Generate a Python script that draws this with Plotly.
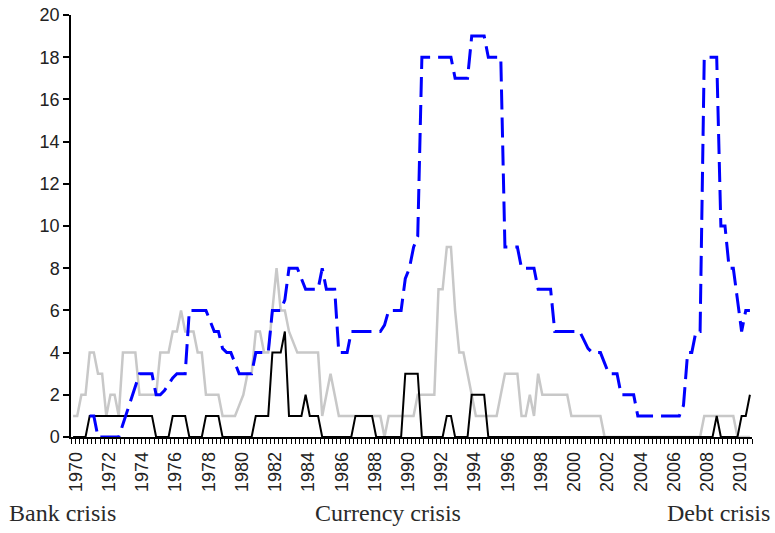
import plotly.graph_objects as go

# Quarterly data, 1970Q1 .. 2010Q4 (164 quarters)
first_year = 1970
last_year = 2010
quarters = [f"{y}Q{q}" for y in range(first_year, last_year + 1) for q in range(1, 5)]
# quarter mid-points on a decimal-year axis
quarter_pos = [first_year + (k + 0.5) / 4 for k in range(len(quarters))]

# Bank crisis (blue dashed)
bank = [
    None, None, None, None, 1, 1, 0, 0,          # 1970-71
    0, 0, 0, 0, 0.6, 1.2, 1.8, 2.4,              # 1972-73
    3, 3, 3, 3, 2, 2, 2.2, 2.5,                  # 1974-75
    2.8, 3, 3, 3, 6, 6, 6, 6,                    # 1976-77
    6, 5.5, 5, 5, 4.2, 4, 4, 3.5,                # 1978-79
    3, 3, 3, 3, 4, 4, 4, 4,                      # 1980-81
    6, 6, 6, 6.5, 8, 8, 8, 7.5,                  # 1982-83
    7, 7, 7, 7, 8, 7, 7, 7,                      # 1984-85
    4, 4, 4, 5, 5, 5, 5, 5,                      # 1986-87
    5, 5, 5, 5.3, 6, 6, 6, 6,                    # 1988-89
    7.5, 8, 9, 9.5, 18, 18, 18, 18,              # 1990-91
    18, 18, 18, 18, 17, 17, 17, 17,              # 1992-93
    19, 19, 19, 19, 18, 18, 18, 18,              # 1994-95
    9, 9, 9, 9, 8, 8, 8, 8,                      # 1996-97
    7, 7, 7, 7, 5, 5, 5, 5,                      # 1998-99
    5, 5, 5, 4.6, 4.2, 4, 4, 4,                  # 2000-01
    3.5, 3, 3, 3, 2, 2, 2, 2,                    # 2002-03
    1, 1, 1, 1, 1, 1, 1, 1,                      # 2004-05
    1, 1, 1, 1.5, 4, 4, 5, 5,                    # 2006-07
    18, 18, 18, 18, 10, 10, 8, 8,                # 2008-09
    6.5, 5, 6, 6,                                # 2010
]

# Currency crisis (light grey)
currency = [
    1, 1, 2, 2, 4, 4, 3, 3,                      # 1970-71
    1, 2, 2, 1, 4, 4, 4, 4,                      # 1972-73
    2, 2, 2, 2, 2, 4, 4, 4,                      # 1974-75
    5, 5, 6, 5, 5, 5, 4, 4,                      # 1976-77
    2, 2, 2, 2, 1, 1, 1, 1,                      # 1978-79
    1.5, 2, 3, 3, 5, 5, 4, 4,                    # 1980-81
    6, 8, 6, 6, 5, 4.5, 4, 4,                    # 1982-83
    4, 4, 4, 4, 1, 2, 3, 2,                      # 1984-85
    1, 1, 1, 1, 1, 1, 1, 1,                      # 1986-87
    1, 1, 1, 0, 1, 1, 1, 1,                      # 1988-89
    1, 1, 1, 2, 2, 2, 2, 2,                      # 1990-91
    7, 7, 9, 9, 6, 4, 4, 3,                      # 1992-93
    2, 1, 1, 1, 1, 1, 1, 2,                      # 1994-95
    3, 3, 3, 3, 1, 1, 2, 1,                      # 1996-97
    3, 2, 2, 2, 2, 2, 2, 2,                      # 1998-99
    1, 1, 1, 1, 1, 1, 1, 1,                      # 2000-01
    0, 0, 0, 0, 0, 0, 0, 0,                      # 2002-03
    0, 0, 0, 0, 0, 0, 0, 0,                      # 2004-05
    0, 0, 0, 0, 0, 0, 0, 0,                      # 2006-07
    1, 1, 1, 1, 1, 1, 1, 1,                      # 2008-09
    0, 0, 0, 0,                                  # 2010
]

# Debt crisis (black)
debt = [
    0, 0, 0, 0, 1, 1, 1, 1,                      # 1970-71
    1, 1, 1, 1, 1, 1, 1, 1,                      # 1972-73
    1, 1, 1, 1, 0, 0, 0, 0,                      # 1974-75
    1, 1, 1, 1, 0, 0, 0, 0,                      # 1976-77
    1, 1, 1, 1, 0, 0, 0, 0,                      # 1978-79
    0, 0, 0, 0, 1, 1, 1, 1,                      # 1980-81
    4, 4, 4, 5, 1, 1, 1, 1,                      # 1982-83
    2, 1, 1, 1, 0, 0, 0, 0,                      # 1984-85
    0, 0, 0, 0, 1, 1, 1, 1,                      # 1986-87
    1, 0, 0, 0, 0, 0, 0, 0,                      # 1988-89
    3, 3, 3, 3, 0, 0, 0, 0,                      # 1990-91
    0, 0, 1, 1, 0, 0, 0, 0,                      # 1992-93
    2, 2, 2, 2, 0, 0, 0, 0,                      # 1994-95
    0, 0, 0, 0, 0, 0, 0, 0,                      # 1996-97
    0, 0, 0, 0, 0, 0, 0, 0,                      # 1998-99
    0, 0, 0, 0, 0, 0, 0, 0,                      # 2000-01
    0, 0, 0, 0, 0, 0, 0, 0,                      # 2002-03
    0, 0, 0, 0, 0, 0, 0, 0,                      # 2004-05
    0, 0, 0, 0, 0, 0, 0, 0,                      # 2006-07
    0, 0, 0, 1, 0, 0, 0, 0,                      # 2008-09
    0, 1, 1, 2,                                  # 2010
]

tick_years = list(range(first_year, last_year + 1, 2))
tick_labels = [str(y) for y in tick_years]
y_ticks = list(range(0, 21, 2))

series_names = ["Bank crisis", "Currency crisis", "Debt crisis"]

fig = go.Figure()
fig.add_trace(go.Scatter(x=quarter_pos, y=currency, mode="lines", name=series_names[1],
                         line=dict(color="#c8c8c8", width=2.5)))
fig.add_trace(go.Scatter(x=quarter_pos, y=debt, mode="lines", name=series_names[2],
                         line=dict(color="#000000", width=2)))
fig.add_trace(go.Scatter(x=quarter_pos, y=bank, mode="lines", name=series_names[0],
                         line=dict(color="#0000ff", width=3, dash="20px,8px")))

axis_font = dict(family="Liberation Sans, Arial, sans-serif", size=18, color="#222")

fig.update_layout(
    width=775, height=533,
    margin=dict(l=71, r=23, t=15, b=96),
    paper_bgcolor="white", plot_bgcolor="white",
    showlegend=False,
    xaxis=dict(
        range=[first_year, last_year + 1], automargin=False,
        tickvals=[y + 0.3 for y in tick_years], ticktext=tick_labels,
        tickangle=-90, ticks="", tickfont=axis_font, ticklabelstandoff=6,
        ticklabeloverflow="allow",
        showline=True, linecolor="black", linewidth=1.5,
        showgrid=False, zeroline=False,
        minor=dict(ticks="outside", tick0=first_year, dtick=0.25, ticklen=5,
                   tickcolor="black", tickwidth=1, showgrid=False),
    ),
    yaxis=dict(
        range=[0, 20], tickvals=y_ticks, automargin=False,
        ticks="outside", ticklen=6, tickcolor="black", tickwidth=1.5,
        tickfont=axis_font, ticklabeloverflow="allow",
        showline=True, linecolor="black", linewidth=1.5,
        showgrid=False, zeroline=False,
    ),
)

label_font = dict(family="Liberation Serif, Times New Roman, serif", size=24, color="#2a2a2a")
fig.add_annotation(text=series_names[0], xref="paper", yref="paper", x=-0.094, y=-0.18,
                   xanchor="left", yanchor="middle", showarrow=False, font=label_font)
fig.add_annotation(text=series_names[1], xref="paper", yref="paper", x=0.465, y=-0.18,
                   xanchor="center", yanchor="middle", showarrow=False, font=label_font)
fig.add_annotation(text=series_names[2], xref="paper", yref="paper", x=1.029, y=-0.18,
                   xanchor="right", yanchor="middle", showarrow=False, font=label_font)

# remove the browser's default 8px body margin so the figure fills the window exactly
fig.write_html("out.html", config={"displayModeBar": False},
               post_script="document.body.style.margin='0';")
